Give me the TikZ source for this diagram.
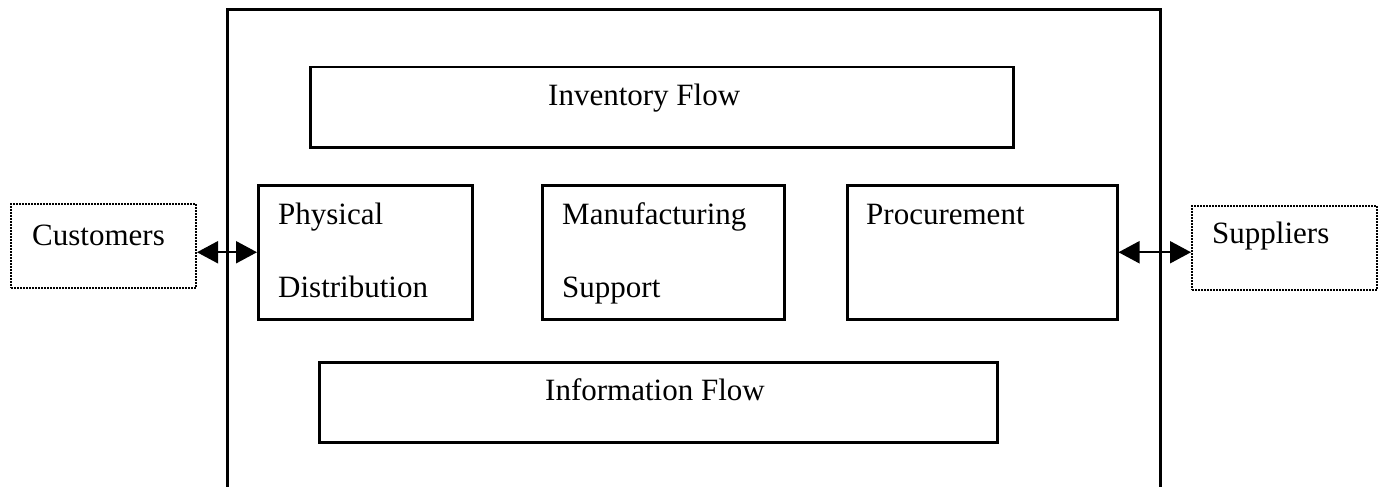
\documentclass[tikz,border=0pt]{standalone}
\usepackage{fontspec}
\setmainfont{Liberation Serif}
\usetikzlibrary{arrows.meta}
\tikzset{
  box/.style={draw, line width=2.5pt, rectangle, inner sep=0pt, anchor=north west},
  dotbox/.style={draw, line width=2pt, dash pattern=on 1.8pt off 1.2pt, rectangle, inner sep=0pt, anchor=north west},
  lbl/.style={inner sep=0pt, anchor=base west, font=\fontsize{31}{37}\selectfont},
  biarrow/.style={line width=2pt, {Triangle[length=21pt,width=22pt]}-{Triangle[length=21pt,width=22pt]}},
  outer/.style={line width=3pt}
}
\begin{document}
\begin{tikzpicture}[x=1pt,y=-1pt]
\useasboundingbox (0,0) rectangle (1379,487);
% outer frame (bottom edge lies below the picture)
\draw[outer] (227,495) -- (227,10) -- (1160,10) -- (1160,495);
% boxes
\node[box, minimum width=703pt, minimum height=80pt] (inv) at (309,66) {};
\node[box, minimum width=214pt, minimum height=134pt] (phys) at (257,184) {};
\node[box, minimum width=242pt, minimum height=134pt] (manu) at (541,184) {};
\node[box, minimum width=270pt, minimum height=134pt] (proc) at (846,184) {};
\node[box, minimum width=678pt, minimum height=80pt] (info) at (318,361) {};
\node[dotbox, minimum width=185pt, minimum height=84pt] (cust) at (10,203) {};
\node[dotbox, minimum width=185pt, minimum height=84pt] (sup) at (1191,205) {};
% labels
\node[lbl] (tinv) at (548,105) {Inventory Flow};
\node[lbl] (tphys1) at (278,224) {Physical};
\node[lbl] (tphys2) at (278,297) {Distribution};
\node[lbl] (tmanu1) at (562,224) {Manufacturing};
\node[lbl] (tmanu2) at (562,297) {Support};
\node[lbl] (tproc) at (866,224) {Procurement};
\node[lbl] (tinfo) at (545,400) {Information Flow};
\node[lbl] (tcust) at (32,245) {Customers};
\node[lbl] (tsup) at (1212,243) {Suppliers};
% connectors
\draw[biarrow] (cust.east |- phys.west) -- (phys.west);
\draw[biarrow] (proc.east) -- (sup.west |- proc.east);
\end{tikzpicture}
\end{document}
